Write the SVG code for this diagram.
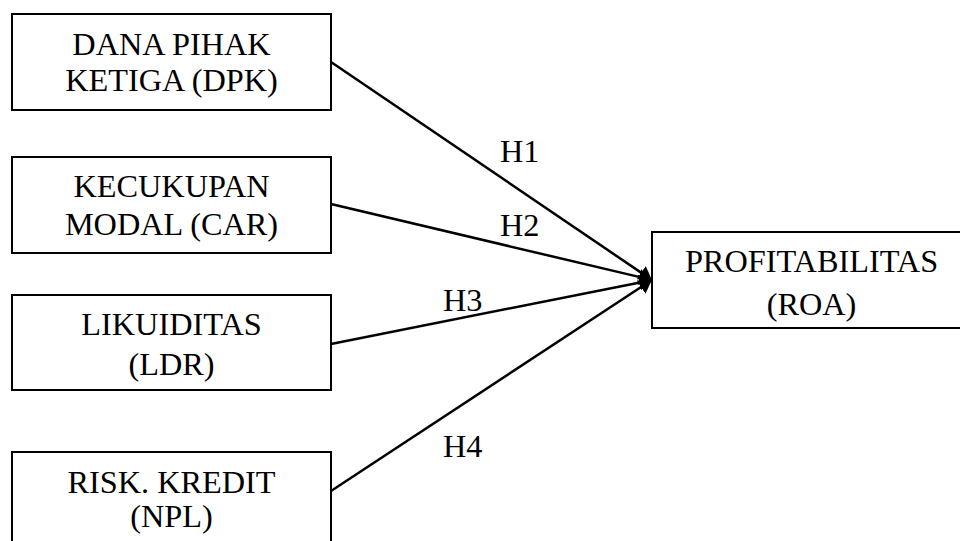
<svg xmlns="http://www.w3.org/2000/svg" width="960" height="541" viewBox="0 0 960 541">
<style>
.box{fill:#fff;stroke:#000;stroke-width:2}
.t{font-family:"Liberation Serif","Times New Roman","DejaVu Serif",serif;font-size:32.3px;fill:#000;text-anchor:middle}
.lbl{font-family:"Liberation Serif","Times New Roman","DejaVu Serif",serif;font-size:32.3px;fill:#000}
.edge{stroke:#000;stroke-width:2.5;fill:none;marker-end:url(#arr)}
</style>
<defs>
<marker id="arr" markerUnits="userSpaceOnUse" markerWidth="13" markerHeight="16" refX="6" refY="8" orient="auto" viewBox="0 0 13 16">
<path d="M0,0 L13,8 L0,16 z" fill="#000"/>
</marker>
</defs>
<rect width="960" height="541" fill="#fff"/>
<g id="connectors">
<line class="edge" x1="331" y1="62" x2="646.2" y2="276.1"/>
<line class="edge" x1="331" y1="204" x2="645.2" y2="278.4"/>
<line class="edge" x1="331" y1="344" x2="645.1" y2="281.4"/>
<line class="edge" x1="331" y1="491" x2="646.1" y2="283.8"/>
<text class="lbl" x="500" y="162">H1</text>
<text class="lbl" x="500" y="236">H2</text>
<text class="lbl" x="443" y="311">H3</text>
<text class="lbl" x="443" y="457">H4</text>
</g>
<g id="dpk">
<rect class="box" x="12" y="14" width="319" height="96"/>
<text class="t" x="171.5" y="55">DANA PIHAK</text>
<text class="t" x="171.5" y="91">KETIGA (DPK)</text>
</g>
<g id="car">
<rect class="box" x="12" y="157" width="319" height="96"/>
<text class="t" x="171.5" y="197">KECUKUPAN</text>
<text class="t" x="171.5" y="235">MODAL (CAR)</text>
</g>
<g id="ldr">
<rect class="box" x="12" y="295" width="319" height="95"/>
<text class="t" x="171.5" y="335">LIKUIDITAS</text>
<text class="t" x="171.5" y="375">(LDR)</text>
</g>
<g id="npl">
<rect class="box" x="12" y="452" width="319" height="100"/>
<text class="t" x="171.5" y="493">RISK. KREDIT</text>
<text class="t" x="171.5" y="527">(NPL)</text>
</g>
<g id="roa">
<rect class="box" x="652" y="232" width="320" height="96"/>
<text class="t" x="811.5" y="272">PROFITABILITAS</text>
<text class="t" x="811.5" y="315">(ROA)</text>
</g>
</svg>
